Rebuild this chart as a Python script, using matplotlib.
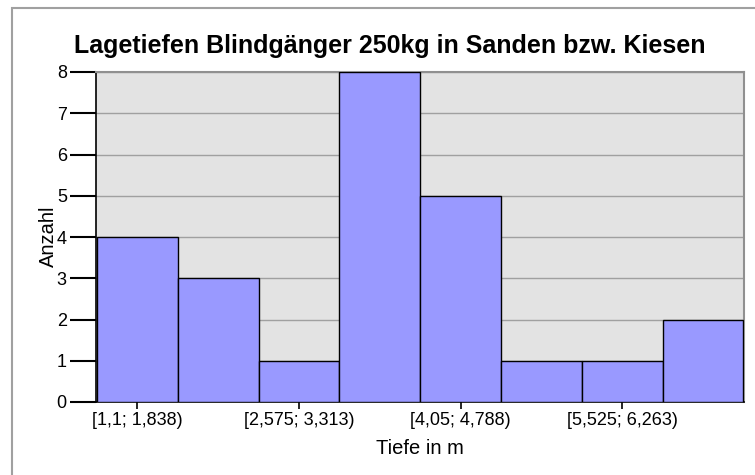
import numpy as np
import matplotlib.pyplot as plt
from matplotlib.patches import Rectangle

plt.rcParams['font.family'] = ['Liberation Sans', 'DejaVu Sans']

# Klassengrenzen (Tiefe in m) und Anzahl
kanten = [1.1, 1.8375, 2.575, 3.3125, 4.05, 4.7875, 5.525, 6.2625, 7.0]
anzahl = [4, 3, 1, 8, 5, 1, 1, 2]
tick_labels = ['[1,1; 1,838)', '[2,575; 3,313)', '[4,05; 4,788)', '[5,525; 6,263)']

kanten = np.array(kanten)
breite = np.diff(kanten)
mitten = kanten[:-1] + breite / 2

fig = plt.figure(figsize=(7.55, 4.75), dpi=100)
fig.patches.append(Rectangle((12/755, -0.1), 1.2, 1 - 8/475 + 0.1, transform=fig.transFigure,
                             fill=False, edgecolor='#a0a0a0', linewidth=1.5))
ax = fig.add_axes([96/755, 1 - 402/475, 648/755, 330/475])
ax.set_facecolor('#e3e3e3')

ax.bar(kanten[:-1], anzahl, width=breite, align='edge', color='#9999ff',
       edgecolor='black', linewidth=1, zorder=3)

ax.set_xlim(kanten[0] - 0.01, kanten[-1] + 0.005)
ax.set_ylim(0, 8)
ax.set_yticks(range(0, 9))
ax.yaxis.grid(True, color='#a0a0a0', linewidth=1, zorder=0)
ax.set_xticks(mitten[::2])
ax.set_xticklabels(tick_labels)
ax.tick_params(axis='y', length=19, width=1.5, labelsize=13, pad=2)
ax.tick_params(axis='x', length=5, width=1.2, labelsize=13, pad=2)

for s in ['top', 'right']:
    ax.spines[s].set_color('#909090')
    ax.spines[s].set_linewidth(1.5)
for s in ['left', 'bottom']:
    ax.spines[s].set_color('black')
    ax.spines[s].set_linewidth(1.2)

fig.text(390/755, 1 - 53/475, 'Lagetiefen Blindgänger 250kg in Sanden bzw. Kiesen',
         fontsize=18, fontweight='bold', ha='center', va='baseline')
ax.set_xlabel('Tiefe in m', fontsize=14.5)
ax.xaxis.set_label_coords(0.5, (402 - 439) / 330)
ax.set_ylabel('Anzahl', fontsize=14.5)
ax.yaxis.set_label_coords((58 - 96) / 648, 0.503)

plt.savefig('out.png', dpi=100)
